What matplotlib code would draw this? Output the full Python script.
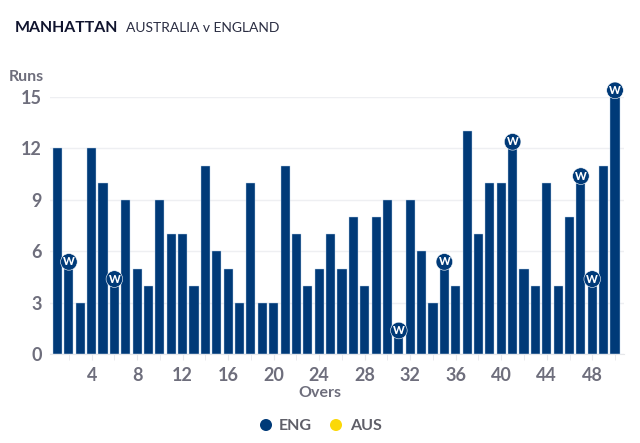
import matplotlib
matplotlib.use('Agg')
import matplotlib.pyplot as plt

# Manhattan chart data
overs = list(range(1, 51))
eng_runs = [12, 5, 3, 12, 10, 4, 9, 5, 4, 9,
            7, 7, 4, 11, 6, 5, 3, 10, 3, 3,
            11, 7, 4, 5, 7, 5, 8, 4, 8, 9,
            1, 9, 6, 3, 5, 4, 13, 7, 10, 10,
            12, 5, 4, 10, 4, 8, 10, 4, 11, 15]
wicket_overs = [2, 6, 31, 35, 41, 47, 48, 50]
y_ticks = [0, 3, 6, 9, 12, 15]
x_labels = [4, 8, 12, 16, 20, 24, 28, 32, 36, 40, 44, 48]
x_minor = [2, 6, 10, 14, 18, 22, 26, 30, 34, 38, 42, 46, 50]

W, H = 640, 443
navy = '#003a78'
grey = '#6e6e7c'
plt.rcParams['font.family'] = ['Lato', 'DejaVu Sans']

fig = plt.figure(figsize=(W / 100, H / 100), dpi=100)
ax = fig.add_axes([50 / W, 1 - 354.3 / H, 574 / W, 257.3 / H])

ax.bar(overs, eng_runs, width=0.8, color=navy, edgecolor='#b9d0e8', linewidth=0.3, zorder=2)
ax.set_xlim(0.34, 50.79)
ax.set_ylim(0, 15)

ax.set_yticks(y_ticks)
ax.set_xticks(x_labels)
ax.set_xticks(x_minor, minor=True)
ax.grid(axis='y', color='#eeeff2', linewidth=1, zorder=0)
for s in ax.spines.values():
    s.set_visible(False)
ax.spines['bottom'].set_visible(True)
ax.spines['bottom'].set_color('#e6e7ea')
ax.tick_params(axis='y', length=0, labelsize=13, labelcolor=grey, pad=6)
ax.tick_params(axis='x', which='major', length=4, color='#e6e7ea', labelsize=13, labelcolor=grey, pad=5)
ax.tick_params(axis='x', which='minor', length=4, color='#e6e7ea')
for lab in ax.get_xticklabels() + ax.get_yticklabels():
    lab.set_fontweight('bold')

# wicket markers sit just above the bar top
for o in wicket_overs:
    r = eng_runs[o - 1]
    ax.annotate('W', (o, r), xytext=(0, 5.5), textcoords='offset points',
                ha='center', va='center_baseline', fontsize=8, fontweight='black', color='white',
                annotation_clip=False, zorder=5,
                bbox=dict(boxstyle='circle,pad=0.22', fc=navy, ec='white', lw=0.4))

fig.text(15 / W, 1 - 28 / H, 'MANHATTAN', fontsize=11.4, fontweight='bold', color='#10142e', va='center')
fig.text(126 / W, 1 - 28 / H, 'AUSTRALIA v ENGLAND', fontsize=10, color='#2a2d42', va='center')
fig.text(44 / W, 1 - 77 / H, 'Runs', fontsize=11.5, fontweight='bold', color=grey, ha='right', va='center')
fig.text(320 / W, 1 - 393 / H, 'Overs', fontsize=11.5, fontweight='bold', color=grey, ha='center', va='center')

# legend
ax_leg = fig.add_axes([0, 0, 1, 1], facecolor='none')
ax_leg.set_xlim(0, W)
ax_leg.set_ylim(H, 0)
ax_leg.axis('off')
ax_leg.scatter([266, 336], [425, 425], s=75, color=[navy, '#fbd808'], linewidths=0)
ax_leg.text(279, 426, 'ENG', fontsize=11.5, fontweight='bold', color='#5f5f68', va='center')
ax_leg.text(350, 426, 'AUS', fontsize=11.5, fontweight='bold', color='#5f5f68', va='center')

fig.savefig('out.png', dpi=100)
